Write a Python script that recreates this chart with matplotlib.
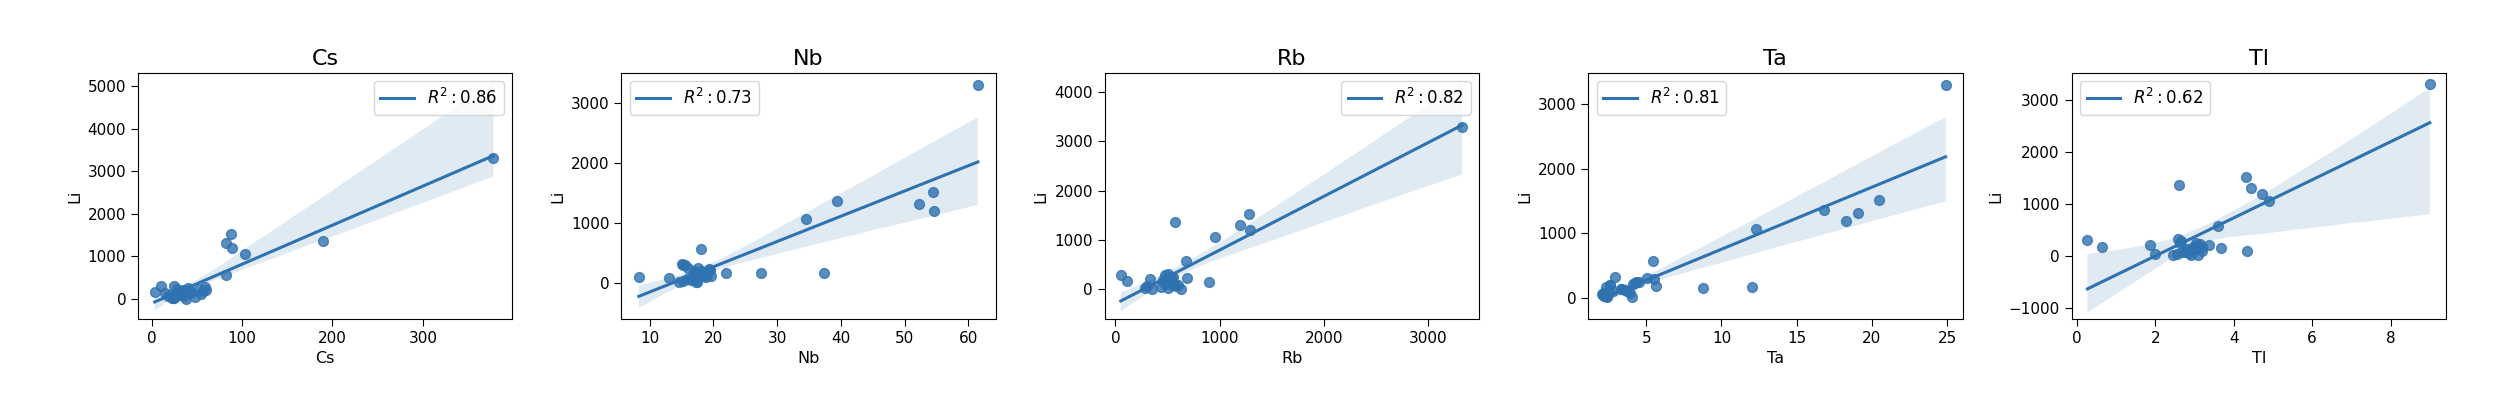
import matplotlib
matplotlib.use("Agg")
import matplotlib.pyplot as plt
from matplotlib.ticker import MultipleLocator
import seaborn as sns
import numpy as np

# Li is shared by all five panels
li = [3300, 1520, 1365, 1310, 1195, 1060, 570, 170, 155, 300, 160, 315, 200, 100,
      30, 5, 225, 240, 80, 120, 60, 140, 210, 110, 15, 250, 180, 90, 40, 290,
      130, 70, 190, 20]

cs = [378, 88.1, 190, 82.6, 88.9, 103.6, 82.6, 45, 30, 10, 3.3, 24.7, 35, 20,
      22, 38.3, 52, 28, 26, 55, 18, 42, 60, 32, 25, 40, 57, 30, 48, 58.7,
      15, 36, 33, 24]
nb = [61.5, 54.5, 39.4, 52.3, 54.6, 34.5, 18.1, 37.3, 27.5, 15.5, 21.9, 15.0, 17.0, 8.3,
      15.3, 17.5, 19.3, 17.6, 13.1, 18.4, 15.8, 17.3, 19.5, 19.6, 14.6, 16.0, 18.6, 18.9, 16.5, 15.2,
      19.0, 17.0, 18.0, 17.2]
rb = [3330, 1284, 571, 1198, 1293, 957, 674, 520, 899, 51, 115, 500, 330, 480,
      282, 629, 690, 555, 540, 490, 300, 470, 510, 560, 350, 530, 455, 600, 440, 475,
      505, 580, 545, 500]
ta = [24.9, 20.5, 16.8, 19.1, 18.3, 12.27, 5.47, 12.0, 8.79, 5.02, 2.3, 2.92, 2.58, 3.7,
      2.2, 4.02, 4.25, 4.5, 3.9, 3.58, 2.07, 3.4, 4.1, 2.8, 2.36, 4.3, 5.62, 2.5, 2.15, 5.5,
      3.3, 2.2, 2.6, 2.4]
tl = [9.0, 4.32, 2.60, 4.44, 4.71, 4.90, 3.59, 3.2, 3.67, 0.27, 0.63, 2.59, 1.87, 3.18,
      1.99, 3.08, 3.14, 3.05, 2.67, 2.80, 2.85, 2.93, 3.37, 2.95, 2.46, 2.62, 3.10, 4.35, 2.55, 2.65,
      3.02, 2.75, 3.01, 2.9]

names = ["Cs", "Nb", "Rb", "Ta", "Tl"]
r2 = ["0.86", "0.73", "0.82", "0.81", "0.62"]
xlims = [(-15.2, 398.9), (5.56, 64.3), (-103, 3494), (1.14, 26.02), (-0.135, 9.41)]
ylims = [(-470, 5305), (-607, 3507), (-602, 4385), (-330, 3480), (-1220, 3520)]
xstep = [100, 10, 1000, 5, 2]
leg_loc = ["upper right", "upper left", "upper right", "upper left", "upper left"]

fig, axes = plt.subplots(1, 5, figsize=(25.04, 3.96), dpi=100)
plt.subplots_adjust(left=0.0551, right=0.9768, bottom=0.1944, top=0.8157, wspace=0.2914)

for i, ax in enumerate(axes):
    xs = [cs, nb, rb, ta, tl][i]
    sns.regplot(x=np.array(xs), y=np.array(li), ax=ax, seed=1, color="#2f72b0",
                scatter_kws={"s": 50},
                line_kws={"label": r"$R^2: " + r2[i] + "$", "lw": 2.2})
    ax.set_xlim(xlims[i])
    ax.set_ylim(ylims[i])
    ax.xaxis.set_major_locator(MultipleLocator(xstep[i]))
    ax.yaxis.set_major_locator(MultipleLocator(1000))
    ax.set_title(names[i], fontsize=16)
    ax.set_xlabel(names[i], fontsize=11.5)
    ax.set_ylabel("Li", fontsize=11.5)
    ax.tick_params(labelsize=11, length=5)
    ax.legend(loc=leg_loc[i], fontsize=12)

plt.savefig("out.png")
